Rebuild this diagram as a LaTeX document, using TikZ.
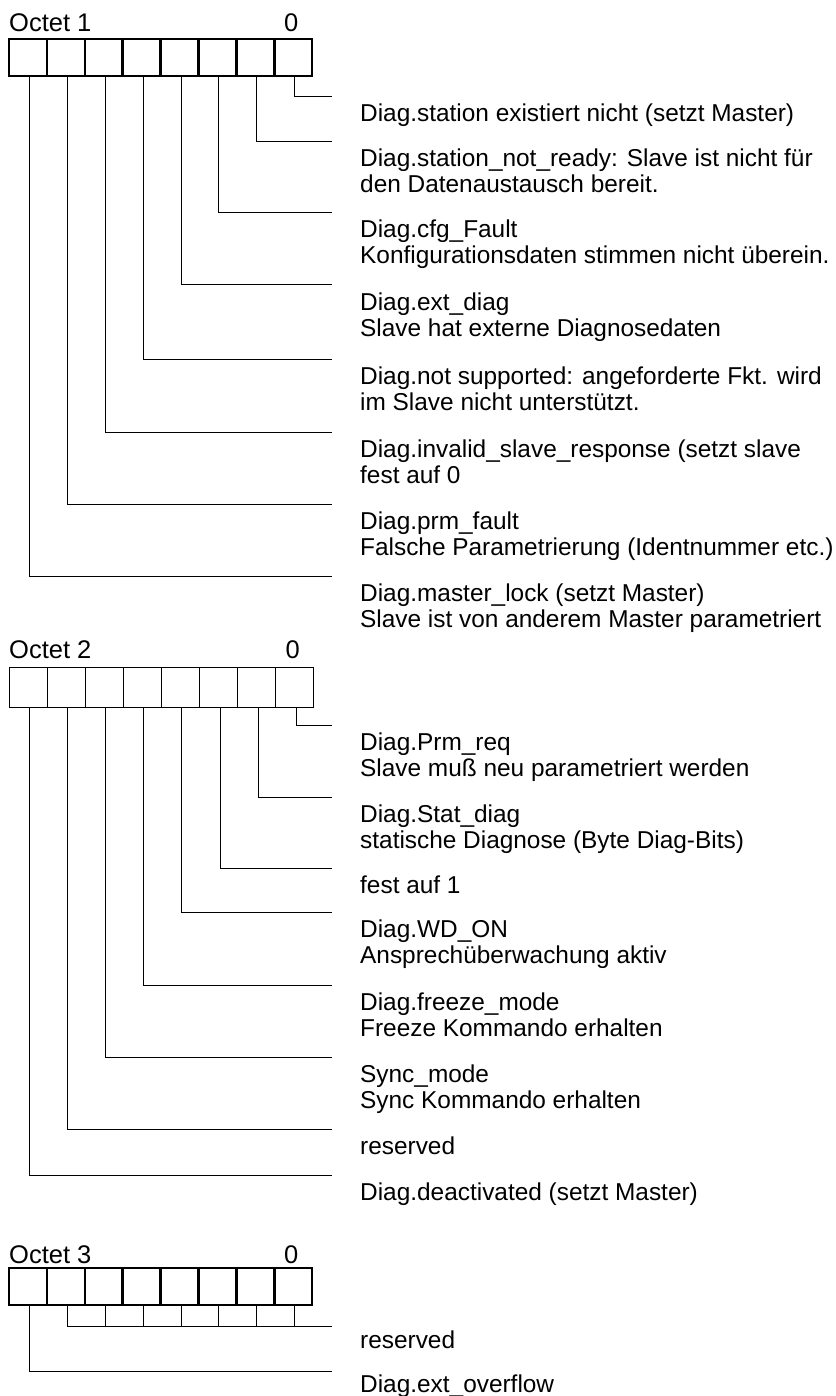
\documentclass[tikz,border=0pt]{standalone}
\usepackage{fontspec}
\setmainfont{Liberation Sans}
\usetikzlibrary{positioning}

\newcommand{\desclines}[1]{\begin{tabular}[t]{@{}l@{}}#1\end{tabular}}

\tikzset{
  bitcell/.style={draw, line width=2.5pt, minimum width=37.9pt, minimum height=37pt, inner sep=0pt, outer sep=0pt},
  thincell/.style={bitcell, line width=1pt, minimum width=38.1pt, minimum height=40pt},
  lead/.style={line width=1pt},
  desc/.style={anchor=base west, inner sep=0pt},
  head/.style={anchor=base west, inner sep=0pt, font=\fontsize{25.5}{28}\selectfont},
  bitno/.style={anchor=base, inner sep=0pt, font=\fontsize{25.5}{28}\selectfont},
}

\begin{document}
\begin{tikzpicture}[x=1pt, y=-1pt]

\def\lx{360}
\def\ex{332}

\fontsize{24.4}{26}\selectfont
\path [use as bounding box] (0,0) rectangle (835,1396);

% OCTET 1
\node [head] (t1) at (9,32) {Octet 1};
\node [bitcell] (a7) at (27.95,57.5) {};
\foreach \b [evaluate=\b as \p using int(\b+1)] in {6,5,...,0}
  \node [bitcell, right=0pt of a\p] (a\b) {};
\node [bitno] (z1) at ([xshift=-2pt]a0.center |- t1.base) {0};

\foreach \b/\y/\txt in {
  0/97/{Diag.station existiert nicht (setzt Master)},
  1/142/{Diag.station\_not\_ready: Slave ist nicht für\\den Datenaustausch bereit.},
  2/213/{Diag.cfg\_Fault\\Konfigurationsdaten stimmen nicht überein.},
  3/285/{Diag.ext\_diag\\Slave hat externe Diagnosedaten},
  4/359/{Diag.not supported: angeforderte Fkt. wird\\im Slave nicht unterstützt.},
  5/432/{Diag.invalid\_slave\_response (setzt slave\\fest auf 0},
  6/504/{Diag.prm\_fault\\Falsche Parametrierung (Identnummer etc.)},
  7/576/{Diag.master\_lock (setzt Master)\\Slave ist von anderem Master parametriert}}
{
  \coordinate (ea\b) at (\ex,\y);
  \draw [lead] ([xshift=1.5pt]a\b.south) |- (ea\b);
  \node [desc] (da\b) at (\lx,\y+25) {\desclines{\txt}};
}

% OCTET 2
\node [head] (t2) at (9,658) {Octet 2};
\node [thincell] (b7) at (28.05,687) {};
\foreach \b [evaluate=\b as \p using int(\b+1)] in {6,5,...,0}
  \node [thincell, right=0pt of b\p] (b\b) {};
\node [bitno] (z2) at ([xshift=-2pt]b0.center |- t2.base) {0};

\foreach \b/\y/\txt in {
  0/725/{Diag.Prm\_req\\Slave muß neu parametriert werden},
  1/797/{Diag.Stat\_diag\\statische Diagnose (Byte Diag-Bits)},
  2/868/{fest auf 1},
  3/912/{Diag.WD\_ON\\Ansprechüberwachung aktiv},
  4/985/{Diag.freeze\_mode\\Freeze Kommando erhalten},
  5/1057/{Sync\_mode\\Sync Kommando erhalten},
  6/1129/{reserved},
  7/1175/{Diag.deactivated (setzt Master)}}
{
  \coordinate (eb\b) at (\ex,\y);
  \draw [lead] ([xshift=1.5pt]b\b.south) |- (eb\b);
  \node [desc] (db\b) at (\lx,\y+25) {\desclines{\txt}};
}

% OCTET 3
\node [head] (t3) at (9,1263) {Octet 3};
\node [bitcell] (c7) at (27.95,1286.5) {};
\foreach \b [evaluate=\b as \p using int(\b+1)] in {6,5,...,0}
  \node [bitcell, right=0pt of c\p] (c\b) {};
\node [bitno] (z3) at ([xshift=-2pt]c0.center |- t3.base) {0};

\coordinate (ec0) at (\ex,1326);
\draw [lead] ([xshift=1.5pt]c6.south) |- (ec0);
\foreach \b in {0,...,5}
  \draw [lead] ([xshift=1.5pt]c\b.south) -- ([xshift=1.5pt]c\b.south |- ec0);
\node [desc] (dc0) at (\lx,1348) {reserved};

\coordinate (ec7) at (\ex,1371);
\draw [lead] ([xshift=1.5pt]c7.south) |- (ec7);
\node [desc] (dc7) at (\lx,1392) {Diag.ext\_overflow};

\end{tikzpicture}
\end{document}
